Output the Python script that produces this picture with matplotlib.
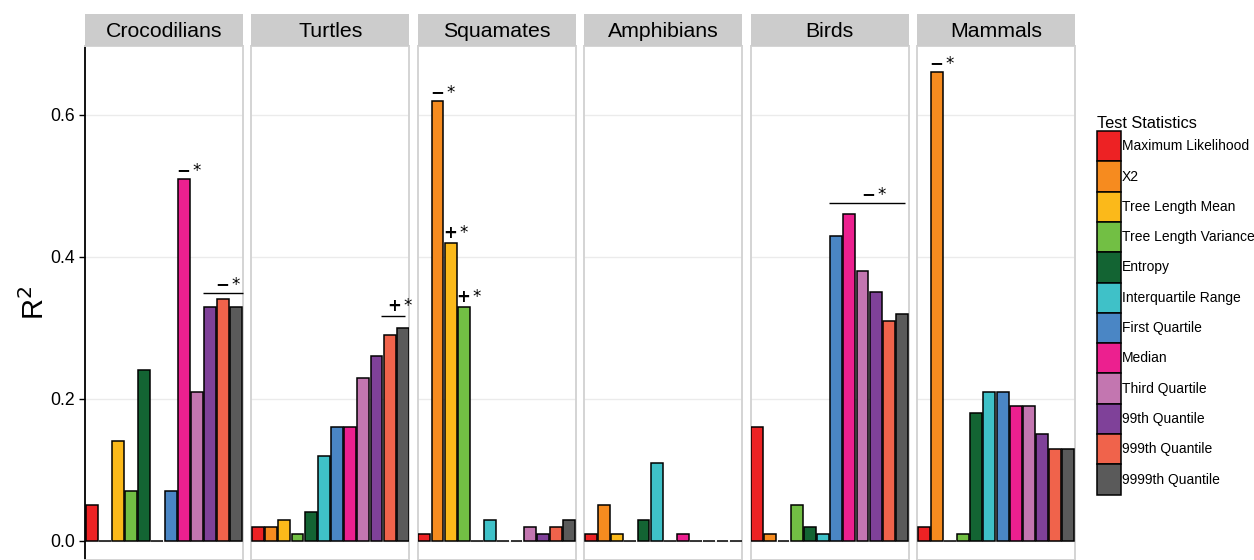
import matplotlib.pyplot as plt
from matplotlib.patches import Patch
from matplotlib import font_manager
from matplotlib.font_manager import FontProperties

# Test statistics (legend order) and their fill colours
STATS = [
    "Maximum Likelihood", "X2", "Tree Length Mean", "Tree Length Variance",
    "Entropy", "Interquartile Range", "First Quartile", "Median",
    "Third Quartile", "99th Quantile", "999th Quantile", "9999th Quantile",
]
COLORS = [
    "#ED2224", "#F68B1F", "#FBB91A", "#72BF44", "#136433", "#3FC1C8",
    "#4A86C5", "#EC208F", "#C376B0", "#7F4199", "#F0634B", "#5A5A5A",
]

GROUPS = ["Crocodilians", "Turtles", "Squamates", "Amphibians", "Birds", "Mammals"]

crocodilians = [0.05, 0.00, 0.14, 0.07, 0.24, 0.00, 0.07, 0.51, 0.21, 0.33, 0.34, 0.33]
turtles = [0.02, 0.02, 0.03, 0.01, 0.04, 0.12, 0.16, 0.16, 0.23, 0.26, 0.29, 0.30]
squamates = [0.01, 0.62, 0.42, 0.33, 0.00, 0.03, 0.00, 0.00, 0.02, 0.01, 0.02, 0.03]
amphibians = [0.01, 0.05, 0.01, 0.00, 0.03, 0.11, 0.00, 0.01, 0.00, 0.00, 0.00, 0.00]
birds = [0.16, 0.01, 0.00, 0.05, 0.02, 0.01, 0.43, 0.46, 0.38, 0.35, 0.31, 0.32]
mammals = [0.02, 0.66, 0.00, 0.01, 0.18, 0.21, 0.21, 0.19, 0.19, 0.15, 0.13, 0.13]
VALUES = [crocodilians, turtles, squamates, amphibians, birds, mammals]

# single-bar significance marks: (group, bar index, sign)
BAR_MARKS = [
    (0, 7, "-"),
    (2, 1, "-"),
    (2, 2, "+"),
    (2, 3, "+"),
    (5, 1, "-"),
]
# bracketed marks over several bars: (group, bracket start, bracket end, level, sign x, sign)
BRACKET_MARKS = [
    (0, 8.45, 11.5, 0.349, 9.95, "-"),
    (1, 9.35, 11.2, 0.317, 10.35, "+"),
    (4, 5.42, 11.2, 0.476, 8.42, "-"),
]


def pick_font():
    # prefer a narrow sans (closer to the original look) when one is installed
    for f in font_manager.fontManager.ttflist:
        if f.name == "Liberation Sans Narrow" and f.style == "normal" and f.weight in (400, "normal"):
            return f.fname, 1.12
    return None, 1.0


narrow_file, narrow_scale = pick_font()


def fp(size):
    if narrow_file:
        return FontProperties(fname=narrow_file, size=size * narrow_scale)
    return FontProperties(family="Liberation Sans", size=size)


W, H = 12.54, 5.60
fig = plt.figure(figsize=(W, H), dpi=100)

px_left0 = 85
px_step = 166.4
px_width = 158
px_top = 46
px_strip = 32

axes = []
for i, (grp, vals) in enumerate(zip(GROUPS, VALUES)):
    left = (px_left0 + i * px_step) / 1254
    ax = fig.add_axes([left, 0, px_width / 1254, (560 - px_top) / 560])
    axes.append(ax)
    x = list(range(len(vals)))
    ax.bar(x, vals, width=0.9, color=COLORS, edgecolor="black", linewidth=1.1, zorder=3)
    ax.set_xlim(-0.5, len(vals) - 0.5)
    ax.set_ylim(-0.027, 0.697)
    ax.set_yticks([0.0, 0.2, 0.4, 0.6])
    ax.grid(axis="y", color="#ebebeb", linewidth=1.0, zorder=0)
    ax.set_xticks([])
    for sp in ax.spines.values():
        sp.set_color("#d4d4d4")
        sp.set_linewidth(1.4)
    if i == 0:
        ax.spines["left"].set_color("black")
        ax.spines["left"].set_linewidth(1.3)
        ax.set_yticklabels(["0.0", "0.2", "0.4", "0.6"], fontproperties=fp(12.7))
        ax.tick_params(axis="y", length=4, width=1, pad=3)
        ax.set_ylabel("R$^2$", fontproperties=fp(21), labelpad=0)
    else:
        ax.tick_params(axis="y", length=0, labelleft=False)

    # facet strip
    sax = fig.add_axes([left, (560 - px_top) / 560, px_width / 1254, px_strip / 560])
    sax.set_facecolor("#cccccc")
    sax.set_xticks([])
    sax.set_yticks([])
    for sp in sax.spines.values():
        sp.set_visible(False)
    sax.text(0.5, 0.45, grp, ha="center", va="center", fontproperties=fp(15.3),
             transform=sax.transAxes)


def draw_sign(ax, xs, y, sign):
    # bold sign followed by a raised asterisk, as one text
    label = r"$\mathbf{" + sign + r"}\,$*"
    ax.text(xs - 0.55, y, label, ha="left", va="baseline", fontsize=12,
            family="DejaVu Sans", zorder=5)


for g, b, sign in BAR_MARKS:
    ax = axes[g]
    top = VALUES[g][b]
    draw_sign(ax, b - 0.05, top + 0.007, sign)

for g, a, b, lvl, xs, sign in BRACKET_MARKS:
    ax = axes[g]
    ax.plot([a, b], [lvl, lvl], color="black", linewidth=1.0, zorder=4,
            clip_on=False, solid_capstyle="butt")
    draw_sign(ax, xs, lvl + 0.007, sign)

handles = [Patch(facecolor=c, edgecolor="black", linewidth=1.1) for c in COLORS]
leg = fig.legend(handles, STATS, loc="upper left",
                 bbox_to_anchor=(1097 / 1254, 1 - 116 / 560),
                 frameon=False, prop=fp(10), title="Test Statistics",
                 title_fontproperties=fp(11.8),
                 handlelength=1.73, handleheight=2.98, labelspacing=0.0,
                 handletextpad=0.08, borderpad=0.0, borderaxespad=0.0)
leg._legend_box.align = "left"

fig.savefig("out.png", dpi=100)
